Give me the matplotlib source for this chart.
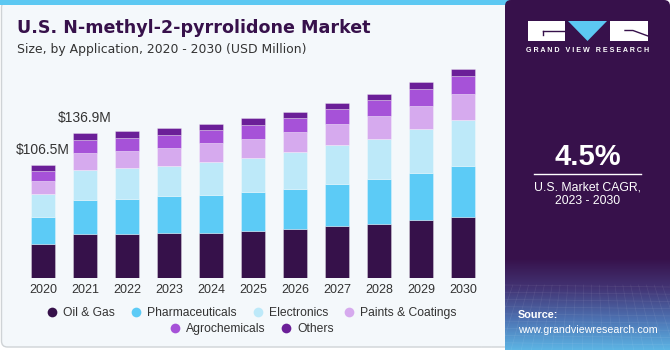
import numpy as np
import matplotlib
matplotlib.use("Agg")
import matplotlib.pyplot as plt
from matplotlib.patches import FancyBboxPatch, Rectangle, Polygon
from matplotlib.lines import Line2D
from matplotlib.colors import LinearSegmentedColormap

plt.rcParams['font.family'] = ['Liberation Sans', 'DejaVu Sans']

years = ["2020", "2021", "2022", "2023", "2024", "2025", "2026", "2027", "2028", "2029", "2030"]
series_names = ["Oil & Gas", "Pharmaceuticals", "Electronics", "Paints & Coatings", "Agrochemicals", "Others"]
oil_gas = [32.5, 41.6, 41.6, 42.5, 42.9, 44.4, 46.3, 48.8, 51.4, 54.5, 58.0]
pharmaceuticals = [25.2, 32.5, 33.4, 34.7, 35.3, 36.6, 37.5, 40.3, 41.9, 45.1, 47.6]
electronics = [21.7, 28.4, 28.7, 29.0, 31.2, 32.1, 35.0, 36.9, 38.4, 41.3, 44.1]
paints_coatings = [12.3, 15.8, 16.4, 16.7, 18.0, 18.3, 18.9, 19.9, 21.1, 22.1, 24.3]
agrochemicals = [9.5, 12.0, 12.0, 12.0, 12.9, 13.5, 13.9, 14.2, 15.1, 16.1, 16.7]
others = [5.4, 6.7, 7.2, 6.9, 5.4, 6.3, 5.4, 5.7, 6.3, 6.3, 6.9]
colors = ["#36114a", "#5ccbf6", "#bde9f9", "#d6aaee", "#a652d8", "#6b1f98"]
annot_labels = {0: "$106.5M", 1: "$136.9M"}

W, H = 670, 350
fig = plt.figure(figsize=(W / 100, H / 100), dpi=100, facecolor="white")

# background / decoration axes in pixel coords
bg = fig.add_axes([0, 0, 1, 1])
bg.set_xlim(0, W)
bg.set_ylim(H, 0)
bg.axis("off")

card = FancyBboxPatch((1.5, 1.5), 515, 345.5, boxstyle="round,pad=0,rounding_size=6",
                      facecolor="#f4f8fb", edgecolor="#cfd3d6", linewidth=1.0)
bg.add_patch(card)
bg.add_patch(Rectangle((0, 0), 510, 5, facecolor="#5cc8f2", edgecolor="none"))

panel = FancyBboxPatch((505, 0), 165, 350, boxstyle="round,pad=0,rounding_size=6",
                       facecolor="#37114b", edgecolor="none")
bg.add_patch(panel)
# gradient at bottom of panel
grad = np.linspace(0, 1, 100).reshape(-1, 1)
cmap = LinearSegmentedColormap.from_list("g", ["#37114b", "#433575", "#4d72b2", "#5cb4e4"])
bg.imshow(grad, extent=(505, 670, 350, 258), aspect="auto", cmap=cmap, zorder=2)
# faint grid texture
for yy in np.linspace(285, 350, 10):
    bg.plot([505, 670], [yy, yy + 2], color="white", alpha=0.08, lw=0.5, zorder=3)
for xx in np.linspace(505, 670, 22):
    bg.plot([xx, xx + (xx - 587) * 0.3], [285, 350], color="white", alpha=0.08, lw=0.5, zorder=3)

# logo
bg.add_patch(Rectangle((527.5, 21), 37.5, 19.5, facecolor="white", edgecolor="none", zorder=4))
bg.plot([543, 565], [30.5, 30.5], color="#37114b", lw=1.0, zorder=5)
bg.plot([543, 543], [30.5, 35], color="#37114b", lw=1.0, zorder=5)
bg.add_patch(Polygon([[568, 21], [607, 21], [587.5, 41]], closed=True, facecolor="#5cc8f2",
                     edgecolor="none", zorder=4))
bg.add_patch(Rectangle((610, 21), 38, 19.5, facecolor="white", edgecolor="none", zorder=4))
bg.plot([625, 633, 648], [30.5, 30.5, 36], color="#37114b", lw=1.0, zorder=5)
bg.text(587.5, 51, "G R A N D   V I E W   R E S E A R C H", color="white", fontsize=5.1,
        fontweight="bold", ha="center", va="center", zorder=5)

bg.text(587.5, 157, "4.5%", color="white", fontsize=21, fontweight="bold", ha="center", va="center", zorder=5)
bg.plot([534, 641], [173.5, 173.5], color="white", lw=1.0, zorder=5)
bg.text(587.5, 187, "U.S. Market CAGR,", color="white", fontsize=8.8, ha="center", va="center", zorder=5)
bg.text(587.5, 201, "2023 - 2030", color="white", fontsize=8.8, ha="center", va="center", zorder=5)
bg.text(518, 315, "Source:", color="white", fontsize=7.8, fontweight="bold", ha="left", va="center", zorder=5)
bg.text(518, 330, "www.grandviewresearch.com", color="white", fontsize=7.7, ha="left", va="center", zorder=5)

# titles
bg.text(17, 28, "U.S. N-methyl-2-pyrrolidone Market", color="#37114b", fontsize=12.6,
        fontweight="bold", ha="left", va="center", family=["DejaVu Sans"])
bg.text(17, 49, "Size, by Application, 2020 - 2030 (USD Million)", color="#333333", fontsize=8.9,
        ha="left", va="center", family=["DejaVu Sans"])

# chart axes
ax = fig.add_axes([22 / W, 1 - 278 / H, 462 / W, 211.6 / H])
ax.set_facecolor("none")
x = np.arange(len(years))
bottom = np.zeros(len(years))
data = [oil_gas, pharmaceuticals, electronics, paints_coatings, agrochemicals, others]
for vals, col, name in zip(data, colors, series_names):
    ax.bar(x, vals, width=0.58, bottom=bottom, color=col, edgecolor=(1, 1, 1, 0.35),
           linewidth=0.6, label=name)
    bottom += np.array(vals)
for i, lab in annot_labels.items():
    ax.annotate(lab.replace("$", r"\$"), (x[i], bottom[i]), xytext=(0, 11), textcoords="offset points",
                ha="center", va="center", fontsize=10, color="#333333")
ax.set_xlim(-0.5, len(years) - 0.5)
ax.set_ylim(0, 200)
ax.set_xticks(x)
ax.set_xticklabels(years, fontsize=9, color="#333333")
ax.tick_params(axis="x", length=0, pad=4)
ax.set_yticks([])
for s in ax.spines.values():
    s.set_visible(False)

handles = [Line2D([], [], marker="o", linestyle="none", markersize=7, color=c, markeredgewidth=0)
           for c in colors]
leg1 = fig.legend(handles[:4], series_names[:4], loc="center", bbox_to_anchor=(252 / W, 1 - 313 / H),
                  ncol=4, frameon=False, fontsize=8.7, handlelength=0.8, handletextpad=0.5,
                  columnspacing=1.35, labelcolor="#333333")
leg2 = fig.legend(handles[4:], series_names[4:], loc="center", bbox_to_anchor=(252 / W, 1 - 329 / H),
                  ncol=2, frameon=False, fontsize=8.7, handlelength=0.8, handletextpad=0.5,
                  columnspacing=1.35, labelcolor="#333333")

fig.savefig("out.png", dpi=100, facecolor="white")
